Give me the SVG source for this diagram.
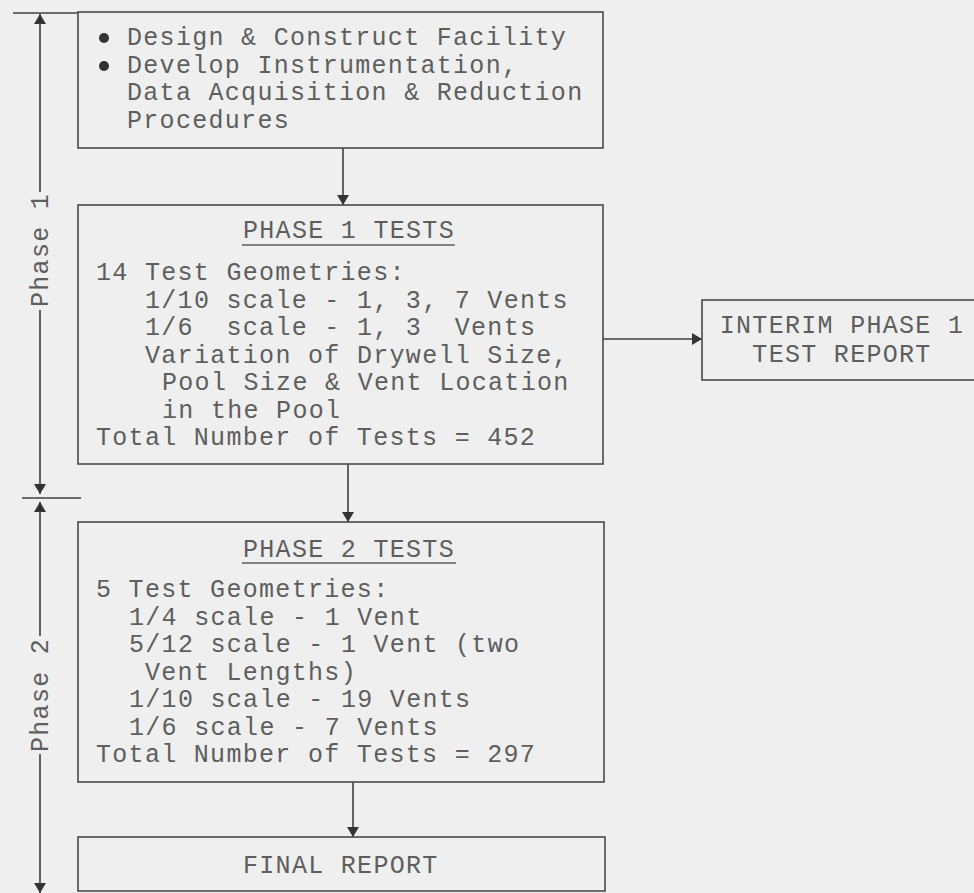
<svg xmlns="http://www.w3.org/2000/svg" width="974" height="893" viewBox="0 0 974 893">
<style>
.bg{fill:#efefef}
.box{fill:none;stroke:#4a4a4a;stroke-width:1.6}
.ln{fill:none;stroke:#3f3f3f;stroke-width:1.6}
.t{font-family:"Liberation Mono","Courier New",monospace;font-size:25px;letter-spacing:1.3px;fill:#5e5e5e}
.ul{stroke:#5e5e5e;stroke-width:1.6}
</style>
<defs>
<marker id="ah" viewBox="0 0 10 16" refX="10" refY="8" markerWidth="10" markerHeight="16" markerUnits="userSpaceOnUse" orient="auto">
<path d="M0,2 L10,8 L0,14 Z" fill="#333"/>
</marker>
</defs>
<rect class="bg" x="0" y="0" width="974" height="893"/>

<g id="connectors">
<line class="ln" x1="13" y1="13" x2="78" y2="13"/>
<line class="ln" x1="40" y1="192" x2="40" y2="14" marker-end="url(#ah)"/>
<line class="ln" x1="40" y1="310" x2="40" y2="494" marker-end="url(#ah)"/>
<line class="ln" x1="22" y1="498" x2="81" y2="498"/>
<line class="ln" x1="40" y1="636" x2="40" y2="502" marker-end="url(#ah)"/>
<line class="ln" x1="40" y1="754" x2="40" y2="893" marker-end="url(#ah)"/>
<line class="ln" x1="343" y1="148" x2="343" y2="205" marker-end="url(#ah)"/>
<line class="ln" x1="348" y1="464" x2="348" y2="522" marker-end="url(#ah)"/>
<line class="ln" x1="353" y1="782" x2="353" y2="837" marker-end="url(#ah)"/>
<line class="ln" x1="603" y1="339" x2="702" y2="339" marker-end="url(#ah)"/>
</g>

<g id="phase1-label">
<text class="t" transform="translate(48,307) rotate(-90)">Phase 1</text>
</g>
<g id="phase2-label">
<text class="t" transform="translate(48,752) rotate(-90)">Phase 2</text>
</g>

<g id="design">
<rect class="box" x="78" y="12" width="525" height="136"/>
<circle cx="104" cy="38" r="5" fill="#333"/>
<circle cx="104" cy="66" r="5" fill="#333"/>
<text class="t" x="127" y="45">Design &amp; Construct Facility</text>
<text class="t" x="127" y="72.6">Develop Instrumentation,</text>
<text class="t" x="127" y="100.2">Data Acquisition &amp; Reduction</text>
<text class="t" x="127" y="127.8">Procedures</text>
</g>

<g id="phase1-tests">
<rect class="box" x="78" y="205" width="525" height="259"/>
<text class="t" x="243" y="238">PHASE 1 TESTS</text>
<line class="ul" x1="242" y1="245" x2="455" y2="245"/>
<text class="t" x="96" y="280">14 Test Geometries:</text>
<text class="t" x="145" y="307.5" xml:space="preserve">1/10 scale - 1, 3, 7 Vents</text>
<text class="t" x="145" y="335" xml:space="preserve">1/6  scale - 1, 3  Vents</text>
<text class="t" x="145" y="362.5">Variation of Drywell Size,</text>
<text class="t" x="162" y="390">Pool Size &amp; Vent Location</text>
<text class="t" x="162" y="417.5">in the Pool</text>
<text class="t" x="96" y="445">Total Number of Tests = 452</text>
</g>

<g id="interim-report">
<rect class="box" x="702" y="300" width="290" height="80"/>
<text class="t" x="842" y="333" text-anchor="middle">INTERIM PHASE 1</text>
<text class="t" x="842" y="362" text-anchor="middle">TEST REPORT</text>
</g>

<g id="phase2-tests">
<rect class="box" x="78" y="522" width="526" height="260"/>
<text class="t" x="243" y="557">PHASE 2 TESTS</text>
<line class="ul" x1="242" y1="563" x2="456" y2="563"/>
<text class="t" x="96" y="597">5 Test Geometries:</text>
<text class="t" x="129" y="624.5">1/4 scale - 1 Vent</text>
<text class="t" x="129" y="652">5/12 scale - 1 Vent (two</text>
<text class="t" x="145" y="679.5">Vent Lengths)</text>
<text class="t" x="129" y="707">1/10 scale - 19 Vents</text>
<text class="t" x="129" y="734.5">1/6 scale - 7 Vents</text>
<text class="t" x="96" y="762">Total Number of Tests = 297</text>
</g>

<g id="final-report">
<rect class="box" x="78" y="837" width="527" height="54"/>
<text class="t" x="243" y="873">FINAL REPORT</text>
</g>
</svg>
